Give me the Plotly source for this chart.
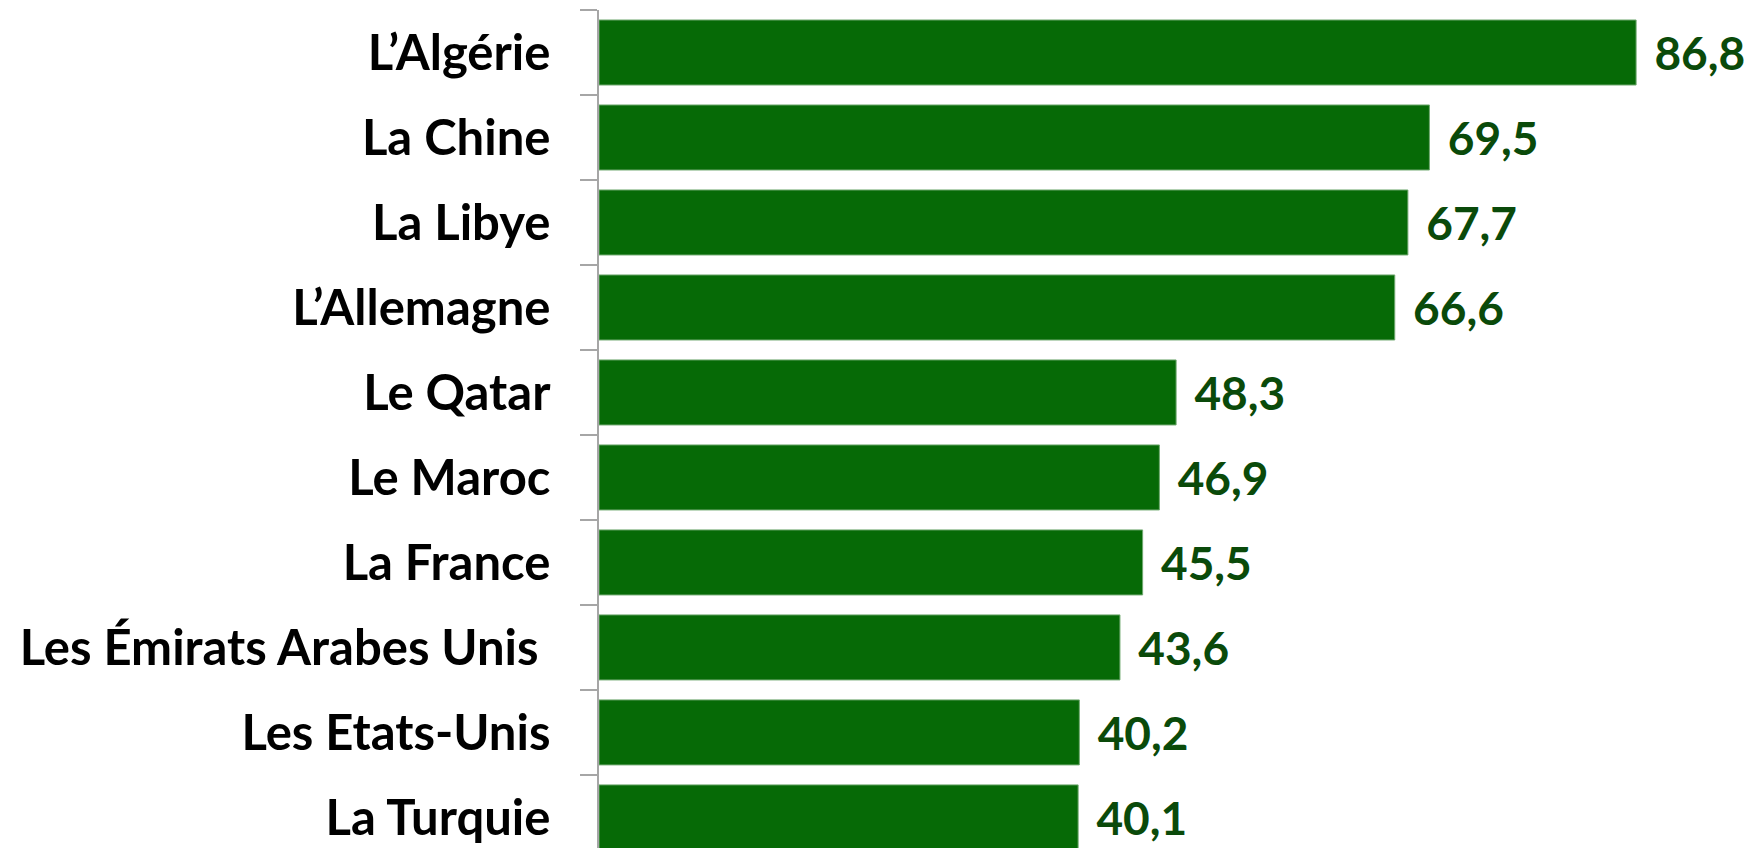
import plotly.graph_objects as go

categories = ["L’Algérie", "La Chine", "La Libye", "L’Allemagne", "Le Qatar",
              "Le Maroc", "La France", "Les Émirats Arabes Unis ", "Les Etats-Unis", "La Turquie"]
values = [86.8, 69.5, 67.7, 66.6, 48.3, 46.9, 45.5, 43.6, 40.2, 40.1]
value_labels = ["\u2004" + f"{v:.1f}".replace(".", ",") for v in values]

fig = go.Figure(go.Bar(
    x=values, y=categories, orientation="h",
    marker=dict(color="#066A06", line=dict(color="#6FA86F", width=1)),
    text=value_labels, textposition="outside", cliponaxis=False,
    textfont=dict(family="Lato", size=46, color="#0A4A0A", weight="bold"),
    width=0.765,
))

fig.update_layout(
    width=1744, height=840,
    margin=dict(l=591, r=0, t=2, b=0),
    plot_bgcolor="white", paper_bgcolor="white",
    showlegend=False,
    xaxis=dict(range=[0, 96.5], showticklabels=False, showgrid=False,
               zeroline=False, showline=False, ticks=""),
    yaxis=dict(categoryorder="array", categoryarray=categories,
               range=[9.36, -0.5], tickson="boundaries", ticks="outside",
               ticklen=17, tickcolor="#A6A6A6", tickwidth=1.5,
               showline=True, linecolor="#A6A6A6", linewidth=1.5,
               showgrid=False, automargin=False,
               tickfont=dict(family="Lato", size=49, color="black", weight="bold"),
               ticklabelstandoff=37),
)

fig.write_html("out.html")
